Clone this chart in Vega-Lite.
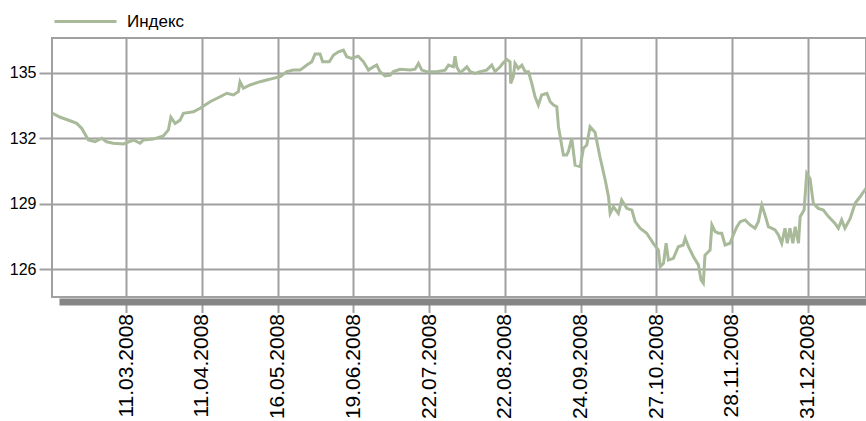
{
  "$schema": "https://vega.github.io/schema/vega-lite/v6.json",
  "width": 814,
  "height": 259,
  "autosize": {"type": "none"},
  "padding": {"left": 52, "top": 38, "right": 0, "bottom": 124},
  "background": "white",
  "data": {"values": [
    {"t":0.7,"v":133.14},{"t":3.0,"v":132.96},{"t":6.0,"v":132.80},{"t":8.0,"v":132.68},{"t":9.55,"v":132.45},
    {"t":11.55,"v":131.92},{"t":13.6,"v":131.84},{"t":15.6,"v":132.00},{"t":17.1,"v":131.84},{"t":19.1,"v":131.77},
    {"t":22.2,"v":131.74},{"t":25.2,"v":131.92},{"t":27.25,"v":131.77},{"t":28.25,"v":131.92},{"t":31.3,"v":131.96},
    {"t":34.3,"v":132.10},{"t":35.85,"v":132.38},{"t":36.6,"v":132.96},{"t":37.9,"v":132.68},{"t":39.4,"v":132.83},
    {"t":40.4,"v":133.14},{"t":43.45,"v":133.21},{"t":45.5,"v":133.37},{"t":48.5,"v":133.67},{"t":51.55,"v":133.90},
    {"t":53.6,"v":134.06},{"t":55.6,"v":133.98},{"t":57.1,"v":134.13},{"t":57.6,"v":134.59},{"t":58.6,"v":134.29},
    {"t":60.65,"v":134.44},{"t":63.7,"v":134.59},{"t":65.7,"v":134.67},{"t":67.7,"v":134.74},{"t":69.8,"v":134.82},
    {"t":71.8,"v":135.05},{"t":73.8,"v":135.12},{"t":75.85,"v":135.12},{"t":77.9,"v":135.35},{"t":79.4,"v":135.50},
    {"t":80.4,"v":135.86},{"t":81.9,"v":135.86},{"t":82.7,"v":135.50},{"t":84.7,"v":135.50},{"t":86.0,"v":135.81},
    {"t":87.5,"v":135.96},{"t":89.0,"v":136.04},{"t":90.0,"v":135.73},{"t":91.5,"v":135.66},{"t":93.5,"v":135.76},
    {"t":95.1,"v":135.50},{"t":96.6,"v":135.12},{"t":98.1,"v":135.27},{"t":99.1,"v":135.35},{"t":100.1,"v":135.05},
    {"t":101.65,"v":134.85},{"t":103.2,"v":134.89},{"t":104.2,"v":135.05},{"t":106.2,"v":135.16},{"t":109.25,"v":135.12},
    {"t":110.75,"v":135.16},{"t":111.8,"v":135.43},{"t":112.8,"v":135.12},{"t":114.3,"v":135.05},{"t":117.35,"v":135.05},
    {"t":119.9,"v":135.12},{"t":120.9,"v":135.35},{"t":122.4,"v":135.27},{"t":122.9,"v":135.76},{"t":123.4,"v":135.27},
    {"t":124.4,"v":135.00},{"t":125.4,"v":135.12},{"t":126.5,"v":135.27},{"t":127.5,"v":135.05},{"t":129.0,"v":134.97},
    {"t":130.5,"v":135.05},{"t":132.5,"v":135.12},{"t":134.05,"v":135.35},{"t":135.05,"v":135.05},{"t":136.6,"v":135.27},
    {"t":137.4,"v":135.43},{"t":138.6,"v":135.61},{"t":139.6,"v":135.50},{"t":139.8,"v":134.51},{"t":140.6,"v":134.82},
    {"t":141.1,"v":135.43},{"t":142.1,"v":135.20},{"t":143.2,"v":135.35},{"t":144.2,"v":135.05},{"t":145.2,"v":135.05},
    {"t":146.2,"v":134.51},{"t":147.2,"v":133.90},{"t":148.2,"v":133.52},{"t":149.2,"v":133.98},{"t":150.8,"v":134.06},
    {"t":151.8,"v":133.67},{"t":152.8,"v":133.52},{"t":153.8,"v":133.44},{"t":154.3,"v":132.53},{"t":155.8,"v":131.23},
    {"t":156.8,"v":131.23},{"t":157.3,"v":131.38},{"t":158.35,"v":132.00},{"t":159.35,"v":130.77},{"t":160.9,"v":130.70},
    {"t":161.9,"v":131.54},{"t":162.9,"v":131.69},{"t":163.9,"v":132.53},{"t":165.4,"v":132.28},{"t":166.9,"v":131.15},
    {"t":168.5,"v":130.09},{"t":169.5,"v":129.32},{"t":170.0,"v":128.56},{"t":171.0,"v":128.86},{"t":172.5,"v":128.56},
    {"t":173.5,"v":129.17},{"t":175.05,"v":128.79},{"t":176.6,"v":128.71},{"t":177.6,"v":128.18},{"t":179.1,"v":127.88},
    {"t":181.1,"v":127.65},{"t":183.1,"v":127.19},{"t":184.65,"v":126.88},{"t":185.2,"v":126.12},{"t":186.2,"v":126.27},
    {"t":187.0,"v":127.19},{"t":187.7,"v":126.42},{"t":189.2,"v":126.50},{"t":190.7,"v":127.03},{"t":192.2,"v":127.11},
    {"t":192.8,"v":127.42},{"t":193.8,"v":127.03},{"t":195.3,"v":126.57},{"t":196.8,"v":126.20},{"t":197.6,"v":125.51},
    {"t":198.3,"v":125.36},{"t":198.8,"v":126.65},{"t":200.35,"v":126.88},{"t":200.9,"v":128.03},{"t":201.9,"v":127.72},
    {"t":202.9,"v":127.65},{"t":203.9,"v":127.65},{"t":204.9,"v":127.11},{"t":206.4,"v":127.19},{"t":207.4,"v":127.57},
    {"t":208.5,"v":127.95},{"t":209.5,"v":128.18},{"t":211.0,"v":128.26},{"t":212.5,"v":128.03},{"t":214.0,"v":127.88},
    {"t":215.0,"v":128.18},{"t":216.05,"v":128.94},{"t":217.05,"v":128.48},{"t":218.05,"v":127.95},{"t":220.1,"v":127.80},
    {"t":221.1,"v":127.57},{"t":222.1,"v":127.19},{"t":223.1,"v":127.88},{"t":223.8,"v":127.19},{"t":224.6,"v":127.88},
    {"t":225.5,"v":127.19},{"t":226.2,"v":127.95},{"t":227.2,"v":127.19},{"t":227.7,"v":128.41},{"t":228.9,"v":128.71},
    {"t":229.7,"v":130.39},{"t":230.7,"v":130.16},{"t":231.7,"v":129.02},{"t":233.2,"v":128.79},{"t":234.75,"v":128.71},
    {"t":236.3,"v":128.41},{"t":238.3,"v":128.10},{"t":239.3,"v":127.88},{"t":240.3,"v":128.26},{"t":241.3,"v":127.88},
    {"t":242.9,"v":128.33},{"t":244.4,"v":129.02},{"t":245.9,"v":129.32},{"t":247.7,"v":129.71}
  ]},
  "mark": {"type": "line", "strokeWidth": 3, "clip": true},
  "encoding": {
    "x": {
      "field": "t", "type": "quantitative",
      "scale": {"domain": [0.5, 247.7], "nice": false, "zero": false},
      "axis": {
        "title": null,
        "values": [23, 46, 69, 92, 115, 138, 161, 184, 207, 230],
        "labelExpr": "['11.03.2008','11.04.2008','16.05.2008','19.06.2008','22.07.2008','22.08.2008','24.09.2008','27.10.2008','28.11.2008','31.12.2008'][round(datum.value/23)-1]",
        "labelAngle": -90,
        "labelFont": "Liberation Sans",
        "labelFontSize": 21,
        "labelColor": "#000000",
        "labelPadding": 1,
        "labelOverlap": false,
        "labelBound": false,
        "labelFlush": false,
        "tickSize": 11,
        "tickColor": "#a0a0a0",
        "tickWidth": 2,
        "domain": true,
        "domainColor": "#858585",
        "domainWidth": 7,
        "domainDash": [0, 7, 3000],
        "offset": 4.5,
        "grid": true,
        "gridColor": "#a0a0a0",
        "gridWidth": 2
      }
    },
    "y": {
      "field": "v", "type": "quantitative",
      "scale": {"domain": [124.73, 136.59], "nice": false, "zero": false},
      "axis": {
        "title": null,
        "values": [126, 129, 132, 135],
        "labelFont": "Liberation Sans",
        "labelFontSize": 16,
        "labelColor": "#000000",
        "labelPadding": 3,
        "tickSize": 13,
        "tickColor": "#a0a0a0",
        "tickWidth": 2,
        "domain": false,
        "grid": true,
        "gridColor": "#a0a0a0",
        "gridWidth": 2
      }
    },
    "color": {
      "datum": "Индекс", "type": "nominal",
      "scale": {"range": ["#a8ba9a"]},
      "legend": {
        "orient": "none",
        "legendX": 1,
        "legendY": -49,
        "title": null,
        "symbolType": "stroke",
        "symbolSize": 3844,
        "symbolStrokeWidth": 3,
        "labelFont": "Liberation Sans",
        "labelFontSize": 17,
        "labelColor": "#000000",
        "labelOffset": 9
      }
    }
  },
  "config": {
    "view": {"stroke": "#a0a0a0", "strokeWidth": 2}
  }
}
